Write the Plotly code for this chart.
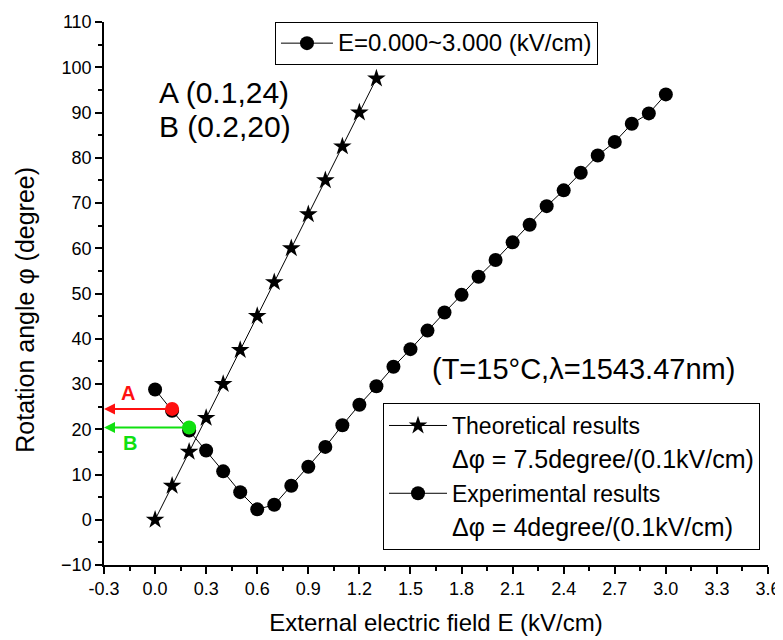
import plotly.graph_objects as go

# ---- data ----
theo_x = [0.0, 0.1, 0.2, 0.3, 0.4, 0.5, 0.6, 0.7, 0.8, 0.9, 1.0, 1.1, 1.2, 1.3]
theo_y = [0.0, 7.5, 15.0, 22.5, 30.0, 37.5, 45.0, 52.5, 60.0, 67.5, 75.0, 82.5, 90.0, 97.5]

exp_x = [0.0, 0.1, 0.2, 0.3, 0.4, 0.5, 0.6, 0.7, 0.8, 0.9, 1.0,
         1.1, 1.2, 1.3, 1.4, 1.5, 1.6, 1.7, 1.8, 1.9, 2.0,
         2.1, 2.2, 2.3, 2.4, 2.5, 2.6, 2.7, 2.8, 2.9, 3.0]
exp_y = [28.8, 24.1, 19.7, 15.3, 10.7, 6.1, 2.3, 3.3, 7.5, 11.7, 16.1,
         20.9, 25.4, 29.5, 33.8, 37.7, 41.8, 45.8, 49.7, 53.7, 57.4,
         61.3, 65.2, 69.3, 72.8, 76.7, 80.5, 83.5, 87.5, 89.8, 94.0]

pointA = (0.1, 24.5)
pointB = (0.2, 20.4)

x_ticks = [-0.3, 0.0, 0.3, 0.6, 0.9, 1.2, 1.5, 1.8, 2.1, 2.4, 2.7, 3.0, 3.3, 3.6]
y_ticks = [-10, 0, 10, 20, 30, 40, 50, 60, 70, 80, 90, 100, 110]

FONT = "Liberation Sans, Arial, Helvetica, sans-serif"
RED = "#ff1010"
GREEN = "#10e010"

fig = go.Figure()

fig.add_trace(go.Scatter(
    x=theo_x, y=theo_y, mode="lines+markers", name="Theoretical results",
    line=dict(color="black", width=1),
    marker=dict(symbol="star", size=14, color="black"),
    legendgroup="g1"))
fig.add_trace(go.Scatter(
    x=[None], y=[None], mode="lines",
    name="<span style='font-size:25px'>\u0394\u03c6 = 7.5degree/(0.1kV/cm)</span>",
    line=dict(color="rgba(0,0,0,0)", width=0), legendgroup="g2"))
fig.add_trace(go.Scatter(
    x=exp_x, y=exp_y, mode="lines+markers", name="Experimental results",
    line=dict(color="black", width=1),
    marker=dict(symbol="circle", size=14, color="black"),
    legendgroup="g3"))
fig.add_trace(go.Scatter(
    x=[None], y=[None], mode="lines",
    name="<span style='font-size:25px'>\u0394\u03c6 = 4degree/(0.1kV/cm)</span>",
    line=dict(color="rgba(0,0,0,0)", width=0), legendgroup="g4"))

fig.add_trace(go.Scatter(
    x=[pointA[0]], y=[pointA[1]], mode="markers", showlegend=False,
    marker=dict(symbol="circle", size=14, color=RED)))
fig.add_trace(go.Scatter(
    x=[pointB[0]], y=[pointB[1]], mode="markers", showlegend=False,
    marker=dict(symbol="circle", size=14, color=GREEN)))

fig.add_trace(go.Scatter(
    x=[None], y=[None], mode="lines+markers",
    name="<span style='font-size:24px'>E=0.000~3.000 (kV/cm)</span>",
    line=dict(color="black", width=1),
    marker=dict(symbol="circle", size=14, color="black"),
    legend="legend2"))

annotations = [
    dict(x=-0.3, y=pointA[1], ax=pointA[0], ay=pointA[1], axref="x", ayref="y",
         xref="x", yref="y", text="", showarrow=True, arrowhead=2, arrowsize=1.1,
         arrowwidth=2, arrowcolor=RED),
    dict(x=-0.3, y=pointB[1], ax=pointB[0], ay=pointB[1], axref="x", ayref="y",
         xref="x", yref="y", text="", showarrow=True, arrowhead=2, arrowsize=1.1,
         arrowwidth=2, arrowcolor=GREEN),
    dict(x=-0.159, y=28.0, xref="x", yref="y", text="<b>A</b>", showarrow=False,
         font=dict(size=20, color=RED, family=FONT)),
    dict(x=-0.147, y=17.0, xref="x", yref="y", text="<b>B</b>", showarrow=False,
         font=dict(size=20, color=GREEN, family=FONT)),
    dict(x=0.012, y=94.5, xref="x", yref="y", xanchor="left", yanchor="middle",
         text="A (0.1,24)", showarrow=False, font=dict(size=30, color="black", family=FONT)),
    dict(x=0.012, y=86.8, xref="x", yref="y", xanchor="left", yanchor="middle",
         text="B (0.2,20)", showarrow=False, font=dict(size=30, color="black", family=FONT)),
    dict(x=1.615, y=33.3, xref="x", yref="y", xanchor="left", yanchor="middle",
         text="(T=15\u00b0C,\u03bb=1543.47nm)", showarrow=False,
         font=dict(size=29, color="black", family=FONT)),
    dict(x=-0.119, y=0.47, xref="paper", yref="paper", xanchor="center", yanchor="middle",
         text="Rotation angle \u03c6 (degree)", textangle=-90, showarrow=False,
         font=dict(size=25, color="black", family=FONT)),
]

axis_common = dict(
    showline=True, linecolor="black", linewidth=1.5, mirror=False,
    ticks="outside", ticklen=7, tickwidth=1.5, tickcolor="black",
    showgrid=False, zeroline=False, automargin=False,
    tickfont=dict(size=18, color="black", family=FONT),
)

fig.update_layout(
    width=783, height=640,
    margin=dict(l=96, r=23, t=14, b=83, autoexpand=False),
    paper_bgcolor="white", plot_bgcolor="white",
    font=dict(family=FONT, color="black"),
    annotations=annotations,
    xaxis=dict(
        range=[-0.3, 3.6], tickvals=x_ticks,
        ticktext=[f"{v:.1f}" for v in x_ticks],
        minor=dict(dtick=0.15, tick0=-0.3, ticks="outside", ticklen=4,
                   tickwidth=1.5, tickcolor="black"),
        title=dict(text="External electric field E (kV/cm)",
                   font=dict(size=24, family=FONT), standoff=16),
        **axis_common),
    yaxis=dict(
        range=[-10, 110], tickvals=y_ticks,
        minor=dict(dtick=5, tick0=-10, ticks="outside", ticklen=4,
                   tickwidth=1.5, tickcolor="black"),
        **axis_common),
    legend=dict(
        x=0.4202, y=0.2983, xanchor="left", yanchor="top",
        bgcolor="white", bordercolor="black", borderwidth=1,
        font=dict(size=23, family=FONT, color="black"),
        itemwidth=58, traceorder="grouped", tracegroupgap=1,
        itemclick=False, itemdoubleclick=False),
    legend2=dict(
        x=0.2575, y=1.0, xanchor="left", yanchor="top",
        bgcolor="white", bordercolor="black", borderwidth=1,
        font=dict(size=21, family=FONT, color="black"),
        itemwidth=52),
    showlegend=True,
)

fig.write_html("out.html")
